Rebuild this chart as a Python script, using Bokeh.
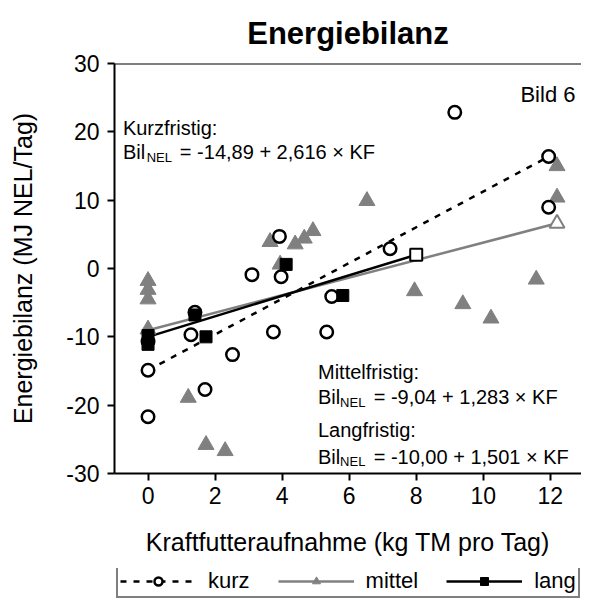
from bokeh.plotting import figure
from bokeh.layouts import column
from bokeh.models import Span, Label, Legend, LegendItem, FixedTicker
from bokeh.embed import file_html
from bokeh.resources import INLINE

# ---------------- data ----------------
kurz_x = [0, 0, 0, 1.28, 1.40, 1.70, 2.52, 3.10, 3.74, 3.92, 3.97, 5.33, 5.48, 7.22, 9.15, 11.95, 11.95]
kurz_y = [-21.7, -14.9, -10.7, -9.7, -6.4, -17.7, -12.6, -0.9, -9.3, 4.7, -1.2, -9.3, -4.1, 2.9, 22.85, 16.4, 8.97]

mittel_x = [0, 0, 0, 0, 1.20, 1.73, 2.30, 3.64, 3.94, 4.39, 4.66, 4.92, 6.53, 7.95, 9.39, 10.23, 11.58, 12.2, 12.2]
mittel_y = [-1.8, -3.1, -4.5, -8.9, -18.9, -25.8, -26.7, 3.9, 0.6, 3.55, 4.4, 5.5, 9.9, -3.3, -5.2, -7.3, -1.6, 15.0, 10.4]

lang_x = [0, 0, 1.40, 1.73, 4.12, 5.81]
lang_y = [-9.8, -11.1, -6.8, -10.0, 0.6, -3.95]

# regression lines: intercept, slope, x from, x to
kurz_fit = (-14.89, 2.616, 0.0, 12.0)
mittel_fit = (-9.04, 1.283, 0.0, 12.2)
lang_fit = (-10.00, 1.501, 0.0, 8.0)

x_ticks = [0, 2, 4, 6, 8, 10, 12]
x_tick_labels = ["0", "2", "4", "6", "8", "10", "12"]
y_ticks = [-30, -20, -10, 0, 10, 20, 30]
y_tick_labels = ["-30", "-20", "-10", "0", "10", "20", "30"]

series_names = ["kurz", "mittel", "lang"]
title_text = "Energiebilanz"
x_title = "Kraftfutteraufnahme (kg TM pro Tag)"
y_title = "Energiebilanz (MJ NEL/Tag)"

FONT = "Liberation Sans"
GRAY = "#808080"


def fit_line(fit):
    a, b, x0, x1 = fit
    return [x0, x1], [a + b * x0, a + b * x1]


# ---------------- main chart ----------------
p = figure(width=581, height=568, x_range=(-1.0, 12.93), y_range=(-30, 30),
           output_backend="svg", toolbar_location=None,
           min_border_left=114, min_border_right=0, min_border_top=63, min_border_bottom=95)

p.outline_line_color = None
p.xgrid.visible = False
p.ygrid.visible = False
p.background_fill_color = "white"
p.border_fill_color = "white"

p.title.text = title_text
p.title.align = "center"
p.title.text_font = FONT
p.title.text_font_size = "31px"
p.title.text_font_style = "bold"
p.title.text_color = "black"
p.title.standoff = 25

for ax in (p.xaxis[0], p.yaxis[0]):
    ax.axis_line_width = 2
    ax.axis_line_color = "black"
    ax.major_tick_line_width = 2
    ax.major_tick_line_color = "black"
    ax.major_tick_out = 7
    ax.major_tick_in = 0
    ax.minor_tick_line_color = None
    ax.major_label_text_font = FONT
    ax.major_label_text_font_size = "23px"
    ax.major_label_text_color = "black"
    ax.axis_label_text_font = FONT
    ax.axis_label_text_font_size = "25px"
    ax.axis_label_text_font_style = "normal"
    ax.axis_label_text_color = "black"

p.xaxis.ticker = FixedTicker(ticks=x_ticks)
p.xaxis.major_label_overrides = dict(zip(x_ticks, x_tick_labels))
p.yaxis.ticker = FixedTicker(ticks=y_ticks)
p.yaxis.major_label_overrides = dict(zip(y_ticks, y_tick_labels))
p.xaxis.axis_label = x_title
p.yaxis.axis_label = y_title
p.xaxis.major_label_standoff = 6
p.yaxis.major_label_standoff = 8
p.xaxis.axis_label_standoff = 21
p.yaxis.axis_label_standoff = 26

# top border line of the frame
p.add_layout(Span(location=30, dimension="width", line_color="black", line_width=2))

# regression lines
kx, ky = fit_line(kurz_fit)
mx, my = fit_line(mittel_fit)
lx, ly = fit_line(lang_fit)
KLINE = dict(line_color="black", line_width=2.5, line_dash="6 7")
MLINE = dict(line_color=GRAY, line_width=2.5)
LLINE = dict(line_color="black", line_width=2.5)
KMARK = dict(marker="circle", size=12.5, fill_color="white", line_color="black", line_width=2.5)
MMARK = dict(marker="triangle", size=16, fill_color=GRAY, line_color=GRAY, line_width=1)
LMARK = dict(marker="square", size=12, fill_color="black", line_color="black", line_width=1)

p.line(kx, ky, **KLINE)
p.line(mx, my, **MLINE)
p.line(lx, ly, **LLINE)

# data points
p.scatter(mittel_x, mittel_y, **MMARK)
p.scatter(kurz_x, kurz_y, **KMARK)
p.scatter(lang_x, lang_y, **LMARK)

# open end markers of the regression lines
p.scatter([mx[1]], [my[1]], marker="triangle", size=15, fill_color="white", line_color=GRAY, line_width=2)
p.scatter([lx[1]], [ly[1]], marker="square", size=12, fill_color="white", line_color="black", line_width=2)

# annotations
def ann(x, y, text, size="20px", align="left"):
    p.add_layout(Label(x=x, y=y, text=text, text_font=FONT, text_font_size=size,
                       text_align=align, text_baseline="alphabetic", text_color="black"))

ann(12.75, 25.4, "Bild 6", size="22px", align="right")
ann(-0.75, 20.5, "Kurzfristig:")
ann(-0.75, 17.0, "Bil")
ann(-0.04, 16.2, "NEL", size="13px")
ann(0.95, 17.0, "= -14,89 + 2,616 \u00d7 KF")

ann(5.07, -15.2, "Mittelfristig:")
ann(5.07, -18.8, "Bil")
ann(5.73, -19.55, "NEL", size="13px")
ann(6.73, -18.8, "= -9,04 + 1,283 \u00d7 KF")

ann(5.07, -23.7, "Langfristig:")
ann(5.07, -27.6, "Bil")
ann(5.73, -28.3, "NEL", size="13px")
ann(6.73, -27.6, "= -10,00 + 1,501 \u00d7 KF")

# ---------------- legend strip below the chart ----------------
# the legend's renderers hold the same series, but this strip's ranges (far outside
# the data) keep them from drawing anything except their legend glyphs
pl = figure(width=581, height=30, x_range=(1000, 1001), y_range=(1000, 1001),
            output_backend="svg", toolbar_location=None,
            x_axis_type=None, y_axis_type=None, min_border=0)
pl.outline_line_color = None
pl.xgrid.visible = False
pl.ygrid.visible = False
pl.border_fill_color = "white"

lk1 = pl.line(kx, ky, **KLINE)
lk2 = pl.scatter(kurz_x, kurz_y, **KMARK)
lm1 = pl.line(mx, my, **MLINE)
lm2 = pl.scatter(mittel_x, mittel_y, **MMARK)
ll1 = pl.line(lx, ly, **LLINE)
ll2 = pl.scatter(lang_x, lang_y, **LMARK)

legend = Legend(items=[LegendItem(label=series_names[0], renderers=[lk1, lk2]),
                       LegendItem(label=series_names[1], renderers=[lm1, lm2]),
                       LegendItem(label=series_names[2], renderers=[ll1, ll2])],
                orientation="horizontal", location=(2, 0),
                glyph_width=76, glyph_height=20, label_height=20, label_standoff=12, spacing=28,
                padding=2, margin=0, border_line_color="black", border_line_width=2,
                label_text_font=FONT, label_text_font_size="22px", label_text_color="black",
                background_fill_color="white", background_fill_alpha=1.0)
pl.add_layout(legend)

layout = column(p, pl, spacing=0)
open("out.html", "w").write(file_html(layout, INLINE))
